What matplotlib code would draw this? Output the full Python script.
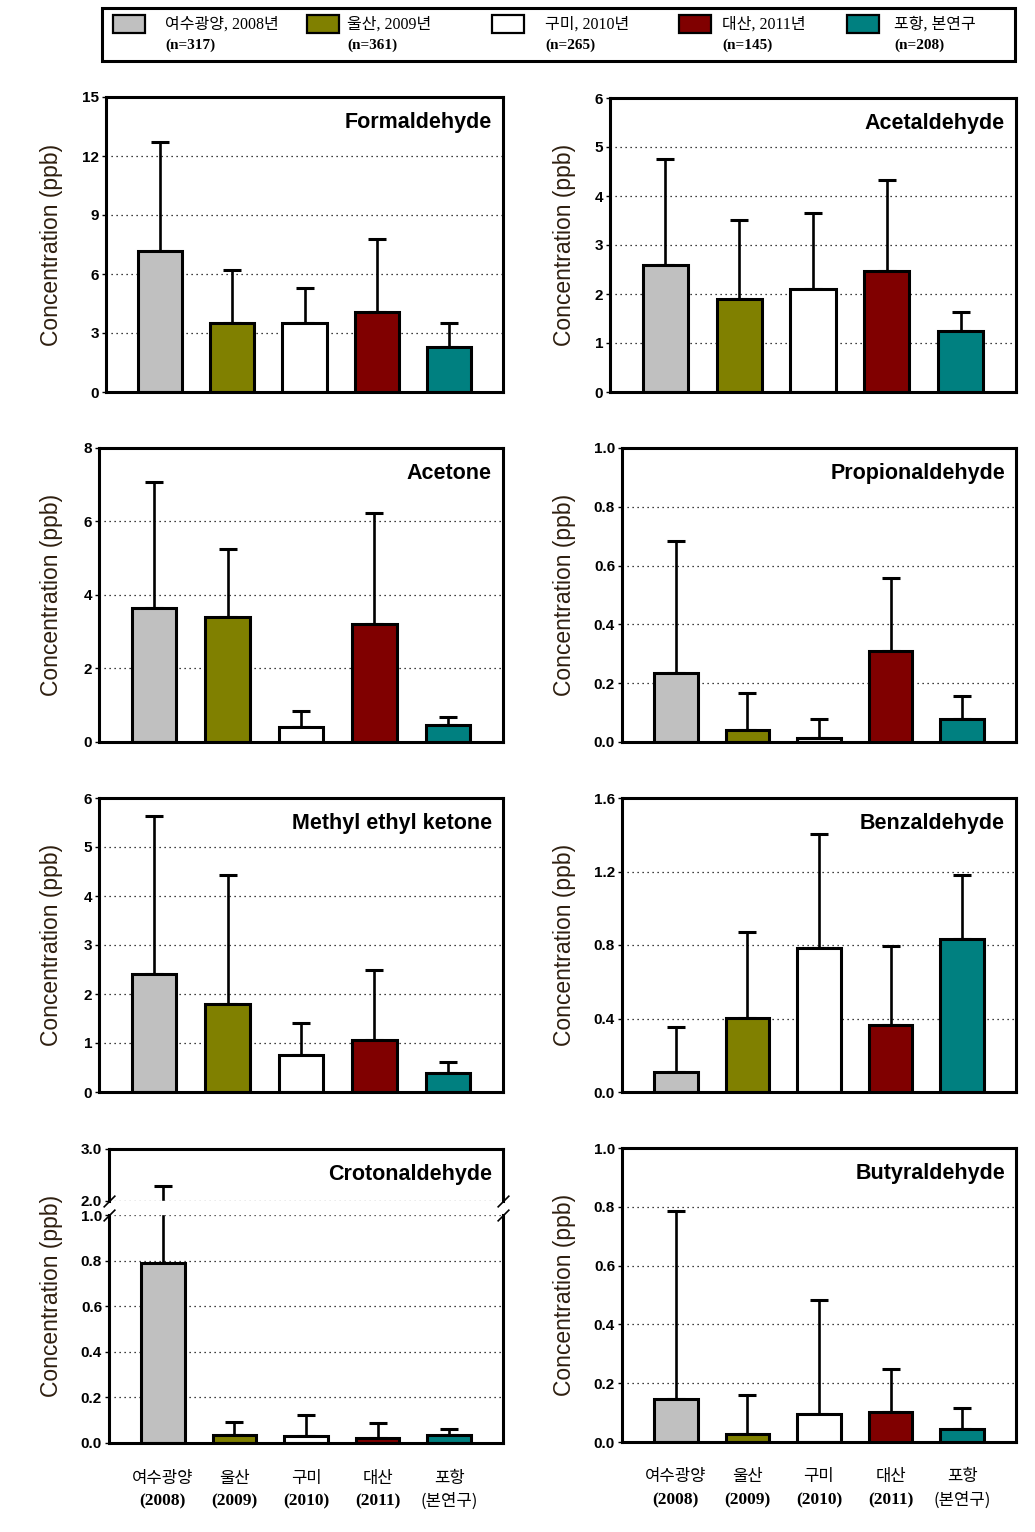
import numpy as np
import matplotlib
matplotlib.use('Agg')
import matplotlib.pyplot as plt
from matplotlib.patches import Rectangle
from matplotlib.path import Path

plt.rcParams['font.family'] = ['Liberation Sans', 'Noto Sans CJK KR']

# 측정 지점 / 기간
sites = ['여수광양', '울산', '구미', '대산', '포항']
years = ['(2008)', '(2009)', '(2010)', '(2011)', '(본연구)']
legend_names = ['여수광양, 2008년', '울산, 2009년', '구미, 2010년', '대산, 2011년', '포항, 본연구']
legend_n = ['(n=317)', '(n=361)', '(n=265)', '(n=145)', '(n=208)']
colors = ['#c0c0c0', '#808000', '#ffffff', '#800000', '#008080']

# 평균과 표준편차 (ppb)
formaldehyde_mean = [7.15, 3.51, 3.51, 4.07, 2.29]
formaldehyde_sd = [5.56, 2.69, 1.76, 3.71, 1.22]
acetaldehyde_mean = [2.60, 1.90, 2.11, 2.46, 1.24]
acetaldehyde_sd = [2.15, 1.62, 1.54, 1.87, 0.39]
acetone_mean = [3.65, 3.40, 0.41, 3.21, 0.46]
acetone_sd = [3.42, 1.85, 0.42, 3.01, 0.22]
propionaldehyde_mean = [0.233, 0.041, 0.013, 0.308, 0.077]
propionaldehyde_sd = [0.450, 0.125, 0.065, 0.249, 0.078]
mek_mean = [2.41, 1.80, 0.76, 1.07, 0.38]
mek_sd = [3.22, 2.63, 0.65, 1.42, 0.23]
benzaldehyde_mean = [0.110, 0.403, 0.784, 0.363, 0.833]
benzaldehyde_sd = [0.244, 0.470, 0.621, 0.432, 0.350]
crotonaldehyde_mean = [0.79, 0.034, 0.032, 0.023, 0.036]
crotonaldehyde_sd = [1.49, 0.058, 0.091, 0.063, 0.027]
butyraldehyde_mean = [0.145, 0.027, 0.095, 0.102, 0.043]
butyraldehyde_sd = [0.640, 0.134, 0.389, 0.147, 0.073]

W, H = 1035, 1532
fig = plt.figure(figsize=(W / 100, H / 100), dpi=100)


def box(l, t, r, b):
    return [l / W, 1 - b / H, (r - l) / W, (b - t) / H]


# crotonaldehyde: 1.0 ~ 2.0 구간 생략
G, K = 0.0627, 0.2268


def fwd(v):
    v = np.asarray(v, dtype=float)
    return np.where(v <= 1, v, np.where(v >= 2, 1 + G + (v - 2) * K, 1 + (v - 1) * G))


def inv(u):
    u = np.asarray(u, dtype=float)
    return np.where(u <= 1, u, np.where(u >= 1 + G, 2 + (u - 1 - G) / K, 1 + (u - 1) / G))


panels = [
    ('Formaldehyde', formaldehyde_mean, formaldehyde_sd, (106, 97, 503, 392), [0, 3, 6, 9, 12, 15], '%d', 0),
    ('Acetaldehyde', acetaldehyde_mean, acetaldehyde_sd, (610, 98, 1016, 392), [0, 1, 2, 3, 4, 5, 6], '%d', 1),
    ('Acetone', acetone_mean, acetone_sd, (99, 448, 503, 742), [0, 2, 4, 6, 8], '%d', 0),
    ('Propionaldehyde', propionaldehyde_mean, propionaldehyde_sd, (622, 448, 1016, 742),
     [0, 0.2, 0.4, 0.6, 0.8, 1.0], '%.1f', 1),
    ('Methyl ethyl ketone', mek_mean, mek_sd, (99, 798, 503, 1092), [0, 1, 2, 3, 4, 5, 6], '%d', 0),
    ('Benzaldehyde', benzaldehyde_mean, benzaldehyde_sd, (622, 798, 1016, 1092),
     [0, 0.4, 0.8, 1.2, 1.6], '%.1f', 1),
    ('Crotonaldehyde', crotonaldehyde_mean, crotonaldehyde_sd, (109, 1149, 503, 1443),
     [0, 0.2, 0.4, 0.6, 0.8, 1.0, 2.0, 3.0], '%.1f', 0),
    ('Butyraldehyde', butyraldehyde_mean, butyraldehyde_sd, (622, 1148, 1016, 1442),
     [0, 0.2, 0.4, 0.6, 0.8, 1.0], '%.1f', 1),
]

x = np.arange(len(sites))
for name, mean, sd, pos, ticks, fmt, col in panels:
    ax = fig.add_axes(box(*pos))
    if name == 'Crotonaldehyde':
        ax.set_yscale('function', functions=(fwd, inv))
    ax.bar(x, mean, width=0.61, color=colors, edgecolor='k', linewidth=2.2, zorder=2)
    ax.errorbar(x, mean, yerr=[np.zeros(len(sd)), sd], fmt='none', ecolor='k',
                elinewidth=1.9, capsize=6.5, capthick=2.2, zorder=1.8)
    ax.set_xlim(-0.75, 4.75)
    ax.set_ylim(0, ticks[-1])
    ax.set_yticks(ticks)
    ax.set_yticklabels([fmt % t for t in ticks], fontweight='bold')
    ax.set_xticks(x)
    ax.tick_params(axis='x', length=0, labelbottom=False)
    ax.tick_params(axis='y', direction='out', length=3, width=1, pad=2, labelsize=11)
    ax.grid(axis='y', linestyle=(0, (1, 3)), color='k', linewidth=0.9)
    ax.set_axisbelow(True)
    for s in ax.spines.values():
        s.set_linewidth(2.2)
    ax.text(0.972, 0.95, name, transform=ax.transAxes, ha='right', va='top',
            fontsize=15.5, fontweight='bold')

    l, t, r, b = pos
    fig.text((52 if col == 0 else 565) / W, 1 - (t + b) / 2 / H, 'Concentration (ppb)',
             rotation=90, ha='center', va='center', fontsize=16.5, color='#2e1f10')

    if name == 'Crotonaldehyde':
        ax.spines['left'].set_visible(False)
        ax.spines['right'].set_visible(False)
        ax.axhspan(1.05, 1.95, color='white', zorder=4)
        tr = ax.get_yaxis_transform()
        for xs in (0, 1):
            for seg in ((0, 1.0), (2.0, 3.0)):
                ax.plot([xs, xs], seg, transform=tr, color='k', lw=2.2, clip_on=False,
                        solid_capstyle='projecting', zorder=5)
        slash = Path([(-1, -1), (1, 1)], [Path.MOVETO, Path.LINETO])
        for yv in (1.0, 2.0):
            ax.plot([0, 1], [yv, yv], transform=tr, ls='none', marker=slash, ms=8.5,
                    mew=1.2, color='k', clip_on=False, zorder=6)

    if pos[3] > 1400:
        for i in range(len(sites)):
            ax.annotate(sites[i], xy=(i, 0), xycoords=('data', 'axes fraction'),
                        xytext=(0, -35 * 0.72), textcoords='offset points',
                        ha='center', va='center', fontsize=12, family='Noto Sans CJK KR')
            if i < 4:
                ax.annotate(years[i], xy=(i, 0), xycoords=('data', 'axes fraction'),
                            xytext=(0, -58 * 0.72), textcoords='offset points',
                            ha='center', va='center', fontsize=12.5, fontweight='bold',
                            family='Liberation Serif')
            else:
                ax.annotate(years[i], xy=(i, 0), xycoords=('data', 'axes fraction'),
                            xytext=(0, -58 * 0.72), textcoords='offset points',
                            ha='center', va='center', fontsize=12, family='Noto Sans CJK KR')

# 범례
fig.add_artist(Rectangle((102 / W, 1 - 61 / H), 913 / W, 53 / H, transform=fig.transFigure,
                         facecolor='white', edgecolor='k', linewidth=2.2))
patch_x = [113, 307, 492, 679, 847]
text_x = [165, 347, 545, 722, 894]
for i in range(len(sites)):
    fig.add_artist(Rectangle((patch_x[i] / W, 1 - 33 / H), 32 / W, 18 / H, transform=fig.transFigure,
                             facecolor=colors[i], edgecolor='k', linewidth=1.6))
    fig.text(text_x[i] / W, 1 - 25 / H, legend_names[i], ha='left', va='center', fontsize=11.5,
             family=['Liberation Serif', 'Noto Sans CJK KR'])
    fig.text(text_x[i] / W, 1 - 45 / H, legend_n[i], ha='left', va='center', fontsize=11,
             fontweight='bold', family='Liberation Serif')

fig.savefig('out.png', dpi=100)
